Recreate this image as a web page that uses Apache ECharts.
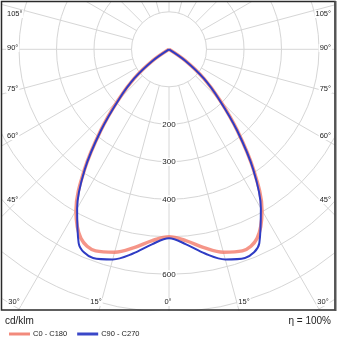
<!DOCTYPE html>
<html><head><meta charset="utf-8">
<script src="https://cdn.jsdelivr.net/npm/echarts@6/dist/echarts.min.js"></script>
<style>html,body{margin:0;padding:0;background:#fff}#c{width:338px;height:338px}</style>
</head><body><div id="c"></div>
<script>
// Photometric data (cd/klm) by gamma angle (degrees from nadir)
const gammas  = [0,5,10,15,20,25,30,35,40,45,50,55,60,65,70,75,80,85,90];
const c0c180  = [500,512,537,560,572,556,496,394,284,192,121,53,0,0,0,0,0,0,0];
const c90c270 = [504,522,553,580,592,570,490,392,282,189,121,53,0,0,0,0,0,0,0];
const seriesNames = ['C0 - C180','C90 - C270'];
const radiusTickLabels = ['200','300','400','600'];
const sideAngleLabels = ['105°','90°','75°','60°','45°'];
const bottomAngleLabels = ['30°','15°','0°','15°','30°'];
const unitLabel = 'cd/klm';
const effLabel = 'η = 100%';

const CX = 169, CY = 49.3, PXPER = 0.375, RMAX = 900;
const FONT = 'Liberation Sans, Arial, sans-serif';
const GRID = '#d6d6d6';
const TXT = '#222';

function build(vals){
  const pts = [];
  for (let i = gammas.length - 1; i > 0; i--) pts.push([vals[i], 360 - gammas[i]]);
  for (let i = 0; i < gammas.length; i++) pts.push([vals[i], gammas[i]]);
  return pts;
}

const sideY = [14, 48, 89, 136, 200];
const bottomX = [14, 96, 168, 244, 323];
const graphics = [];
graphics.push({type:'circle', z:1, silent:true, shape:{cx:CX, cy:CY, r:100*PXPER}, style:{fill:'#fff', stroke:null}});
graphics.push({type:'rect', z:50, silent:true, shape:{x:0,y:311,width:338,height:27}, style:{fill:'#fff'}});
graphics.push({type:'rect', z:50, silent:true, shape:{x:336,y:0,width:2,height:338}, style:{fill:'#fff'}});
graphics.push({type:'rect', z:50, silent:true, shape:{x:0,y:0,width:338,height:1}, style:{fill:'#fff'}});
graphics.push({type:'rect', z:50, silent:true, shape:{x:0,y:0,width:1,height:338}, style:{fill:'#fff'}});
graphics.push({type:'rect', z:60, silent:true, shape:{x:1.5,y:1.5,width:333.5,height:308.5}, style:{fill:null, stroke:'#2a2a2a', lineWidth:1.5}});
graphics.push({type:'line', z:60, silent:true, shape:{x1:335.5,y1:1,x2:335.5,y2:311}, style:{stroke:'#555', lineWidth:2}});
sideAngleLabels.forEach((t,i)=>{
  graphics.push({type:'text', z:55, silent:true, x:6, y:sideY[i], style:{text:t, font:'7.5px '+FONT, fill:TXT, align:'left', verticalAlign:'middle', backgroundColor:'#fff', padding:[0,1]}});
  graphics.push({type:'text', z:55, silent:true, x:332, y:sideY[i], style:{text:t, font:'7.5px '+FONT, fill:TXT, align:'right', verticalAlign:'middle', backgroundColor:'#fff', padding:[0,1]}});
});
bottomAngleLabels.forEach((t,i)=>{
  graphics.push({type:'text', z:55, silent:true, x:bottomX[i], y:302, style:{text:t, font:'7.5px '+FONT, fill:TXT, align:'center', verticalAlign:'middle', backgroundColor:'#fff', padding:[0,1]}});
});
graphics.push({type:'text', z:70, silent:true, x:5, y:321, style:{text:unitLabel, font:'10px '+FONT, fill:TXT, align:'left', verticalAlign:'middle'}});
graphics.push({type:'text', z:70, silent:true, x:331, y:321, style:{text:effLabel, font:'10px '+FONT, fill:TXT, align:'right', verticalAlign:'middle'}});

const chart = echarts.init(document.getElementById('c'), null, {renderer:'canvas'});
chart.setOption({
  animation:false,
  backgroundColor:'#fff',
  polar:{center:[CX, CY], radius: RMAX*PXPER},
  angleAxis:{type:'value', min:0, max:360, interval:15, startAngle:270, clockwise:true, z:0,
    axisLine:{show:false}, axisTick:{show:false}, axisLabel:{show:false},
    splitLine:{show:true, lineStyle:{color:GRID, width:1}}},
  radiusAxis:{type:'value', min:0, max:RMAX, interval:100, z:2,
    axisLine:{show:false}, axisTick:{show:false},
    splitLine:{show:true, lineStyle:{color:GRID, width:1}},
    axisLabel:{show:true, margin:0, align:'center', verticalAlign:'middle', fontSize:8, fontFamily:FONT, color:TXT,
      backgroundColor:'#fff', padding:[0,1],
      formatter:v=> radiusTickLabels.includes(String(v)) ? String(v) : ''}},
  legend:{show:true, z:80, left:4, top:325, itemWidth:21, itemHeight:3, itemGap:10,
    textStyle:{fontSize:7.5, fontFamily:FONT, color:TXT, padding:[0,0,0,-2]},
    data:[{name:seriesNames[0], icon:'rect', itemStyle:{color:'#f28a7c'}},
          {name:seriesNames[1], icon:'rect', itemStyle:{color:'#3a47c8'}}]},
  graphic:{elements:graphics},
  series:[
    {name:seriesNames[0], type:'line', coordinateSystem:'polar', z:3, symbol:'none', smooth:0.35,
      lineStyle:{color:'#f27a6a', width:3.5, opacity:0.8}, itemStyle:{color:'#f28a7c'}, data:build(c0c180)},
    {name:seriesNames[1], type:'line', coordinateSystem:'polar', z:4, symbol:'none', smooth:0.35,
      lineStyle:{color:'#2f3cc4', width:2}, itemStyle:{color:'#3a47c8'}, data:build(c90c270)}
  ]
});
</script></body></html>
